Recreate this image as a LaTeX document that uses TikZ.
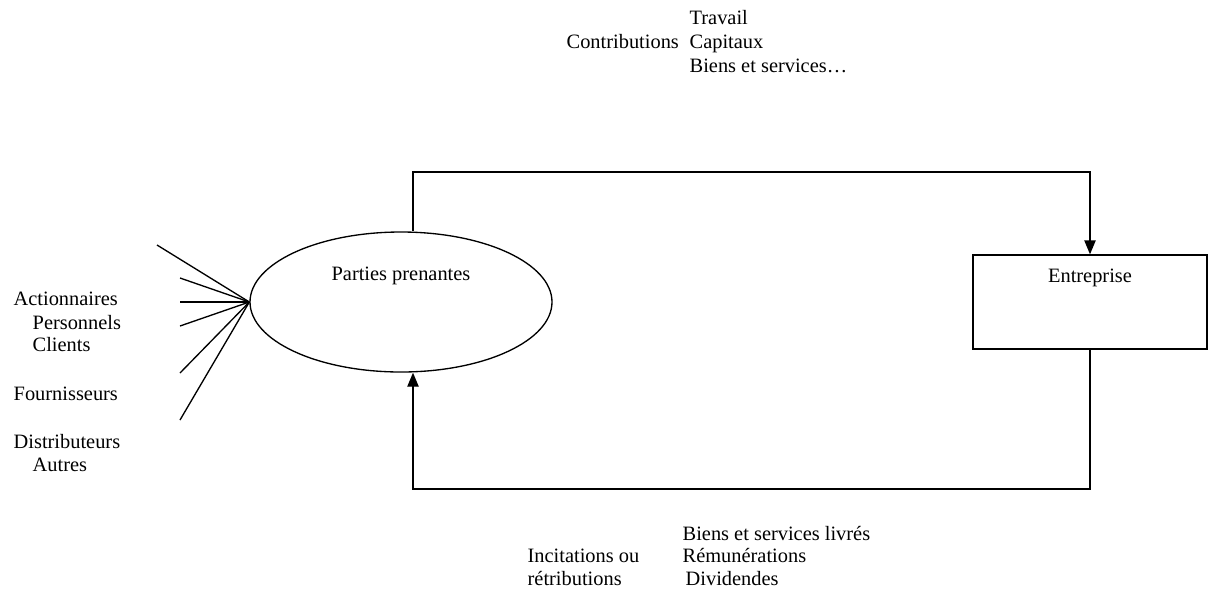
\documentclass[tikz,border=0pt]{standalone}
\usepackage{fontspec}
\setmainfont{Liberation Serif}
\usetikzlibrary{arrows.meta,shapes.geometric}

\tikzset{every picture/.style={line width=1pt}}
\tikzset{
  lbl/.style={anchor=west,inner sep=0pt,font=\fontsize{15.3pt}{18pt}\selectfont,text height=0.7em,text depth=0.2em},
  ctr/.style={lbl,anchor=center},
  flow/.style={-{Triangle[length=10.5pt,width=8.5pt]}}
}

\begin{document}
\begin{tikzpicture}[x=0.75pt,y=0.75pt,yscale=-1,xscale=1]
	\useasboundingbox (0,0) rectangle (1210,594);

	%Shape: Ellipse [id:pp]
	\node (pp) [draw,ellipse,minimum width=226.5pt,minimum height=105pt,inner sep=0pt] at (401,302) {};
	%Shape: Rectangle [id:ent]
	\node (ent) [draw,rectangle,minimum width=175.5pt,minimum height=70.5pt,inner sep=0pt] at (1090,302) {};

	% Text Node
	\node (pptxt) [ctr] at (401,277) {Parties prenantes};
	% Text Node
	\node (enttxt) [ctr] at (1090,279) {Entreprise};

	%Straight Lines [id:fan]
	\coordinate (f1) at (157,245);
	\coordinate (f2) at (180,278);
	\coordinate (f3) at (180,302);
	\coordinate (f4) at (180,326);
	\coordinate (f5) at (180,373);
	\coordinate (f6) at (180,420);
	\draw (pp.west) -- (f1) ;
	\draw (pp.west) -- (f2) ;
	\draw (pp.west) -- (f3) ;
	\draw (pp.west) -- (f4) ;
	\draw (pp.west) -- (f5) ;
	\draw (pp.west) -- (f6) ;

	%Connector: contributions
	\coordinate (topleft) at (413,172);
	\draw [flow] (pp.north -| topleft) -- (topleft) -| (ent.north) ;
	%Connector: retributions
	\coordinate (botleft) at (413,489);
	\draw [flow] (ent.south) |- (botleft) -- (pp.south -| botleft) ;

	% Text Node
	\node (act) [lbl] at (13,302) {Actionnaires};
	% Text Node
	\node (pers) [lbl] at (32,326) {Personnels};
	% Text Node
	\node (cli) [lbl] at (32,348) {Clients};
	% Text Node
	\node (four) [lbl] at (13,397) {Fournisseurs};
	% Text Node
	\node (dist) [lbl] at (13,445) {Distributeurs};
	% Text Node
	\node (aut) [lbl] at (32,468) {Autres};

	% Text Node
	\node (contrib) [lbl] at (566,45) {Contributions};
	% Text Node
	\node (trav) [lbl] at (689,21) {Travail};
	% Text Node
	\node (cap) [lbl] at (689,45) {Capitaux};
	% Text Node
	\node (bs) [lbl] at (689,69) {Biens et services…};

	% Text Node
	\node (bsl) [lbl] at (682,537) {Biens et services livrés};
	% Text Node
	\node (incit) [lbl] at (527,559) {Incitations ou};
	% Text Node
	\node (remu) [lbl] at (682,559) {Rémunérations};
	% Text Node
	\node (retr) [lbl] at (527,582) {rétributions};
	% Text Node
	\node (divi) [lbl] at (685,582) {Dividendes};

\end{tikzpicture}
\end{document}
